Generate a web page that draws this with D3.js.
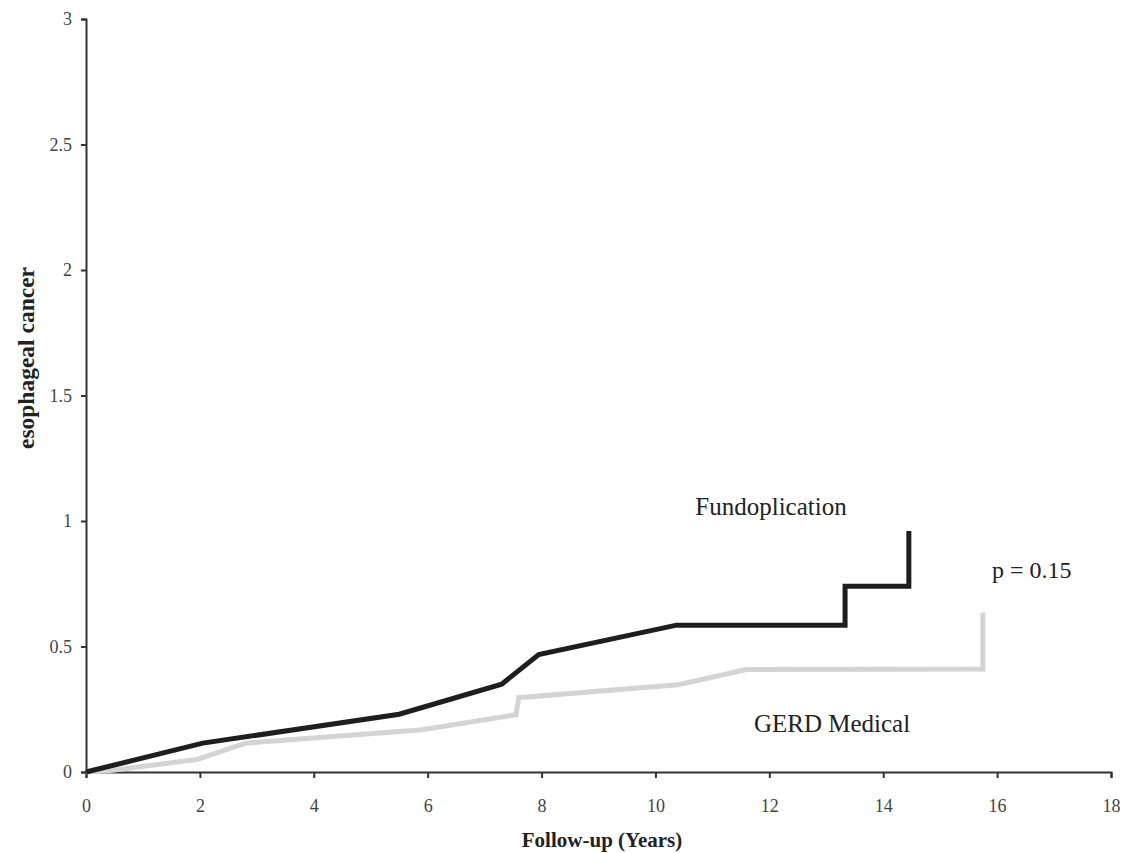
<!DOCTYPE html>
<html>
<head>
<meta charset="utf-8">
<script src="https://cdn.jsdelivr.net/npm/d3@7"></script>
<style>
  body { margin: 0; background: #fff; }
  text { font-family: "Liberation Serif", "DejaVu Serif", serif; }
</style>
</head>
<body>
<script>
// cumulative incidence of esophageal cancer (%)
var fundoYears = [0, 2.05, 5.5, 7.3, 7.95, 10.37, 13.33, 13.33, 14.45, 14.45];
var fundoValues = [0, 0.115, 0.23, 0.35, 0.468, 0.585, 0.585, 0.74, 0.74, 0.96];

var gerdYears = [0, 0.4, 1.95, 2.8, 5.9, 7.55, 7.6, 10.4, 11.6, 15.75, 15.75];
var gerdValues = [0, 0.005, 0.05, 0.115, 0.168, 0.228, 0.296, 0.348, 0.408, 0.41, 0.635];

var xTicks = [0, 2, 4, 6, 8, 10, 12, 14, 16, 18];
var yTicks = [0, 0.5, 1, 1.5, 2, 2.5, 3];

var W = 1132, H = 853;
var margin = {left: 86, right: 21, top: 19, bottom: 81};

var svg = d3.select('body').append('svg').attr('width', W).attr('height', H);

var x = d3.scaleLinear().domain([0, 18]).range([margin.left, W - margin.right]);
var y = d3.scaleLinear().domain([0, 3]).range([H - margin.bottom, margin.top]);

// axes
var xAxis = svg.append('g')
    .attr('transform', 'translate(0,' + y(0) + ')')
    .call(d3.axisBottom(x).tickValues(xTicks).tickSize(6).tickFormat(d3.format('d')));
var yAxis = svg.append('g')
    .attr('transform', 'translate(' + x(0) + ',0)')
    .call(d3.axisLeft(y).tickValues(yTicks).tickSize(5).tickFormat(function(d){ return String(d); }));

[xAxis, yAxis].forEach(function(g){
    g.select('.domain').attr('stroke', '#333').attr('stroke-width', 2);
    g.selectAll('.tick line').attr('stroke', '#333').attr('stroke-width', 2);
    g.selectAll('.tick text').attr('fill', '#444').style('font-size', '18px')
        .style('font-family', '"Liberation Serif", serif');
});
xAxis.selectAll('.tick text').attr('dy', '1.7em');
yAxis.selectAll('.tick text').attr('x', -14);

// lines
var line = d3.line().x(function(d){ return x(d[0]); }).y(function(d){ return y(d[1]); });

svg.append('path')
    .datum(d3.zip(gerdYears, gerdValues))
    .attr('d', line)
    .attr('fill', 'none')
    .attr('stroke', '#d4d4d4')
    .attr('stroke-width', 5);

svg.append('path')
    .datum(d3.zip(fundoYears, fundoValues))
    .attr('d', line)
    .attr('fill', 'none')
    .attr('stroke', '#1e1e1e')
    .attr('stroke-width', 5);

// labels
svg.append('text').text('Fundoplication')
    .attr('x', 771).attr('y', 515).attr('text-anchor', 'middle')
    .style('font-size', '25px').attr('fill', '#222');
svg.append('text').text('p = 0.15')
    .attr('x', 992).attr('y', 578)
    .style('font-size', '24px').attr('fill', '#222');
svg.append('text').text('GERD Medical')
    .attr('x', 832).attr('y', 732).attr('text-anchor', 'middle')
    .style('font-size', '25px').attr('fill', '#222');

svg.append('text').text('Follow-up (Years)')
    .attr('x', 602).attr('y', 847).attr('text-anchor', 'middle')
    .style('font-size', '21px').style('font-weight', 'bold').attr('fill', '#222');

svg.append('text').text('esophageal cancer')
    .attr('transform', 'translate(34,' + 358 + ') rotate(-90)')
    .attr('text-anchor', 'middle')
    .style('font-size', '23.5px').style('font-weight', 'bold').attr('fill', '#222');
</script>
</body>
</html>
